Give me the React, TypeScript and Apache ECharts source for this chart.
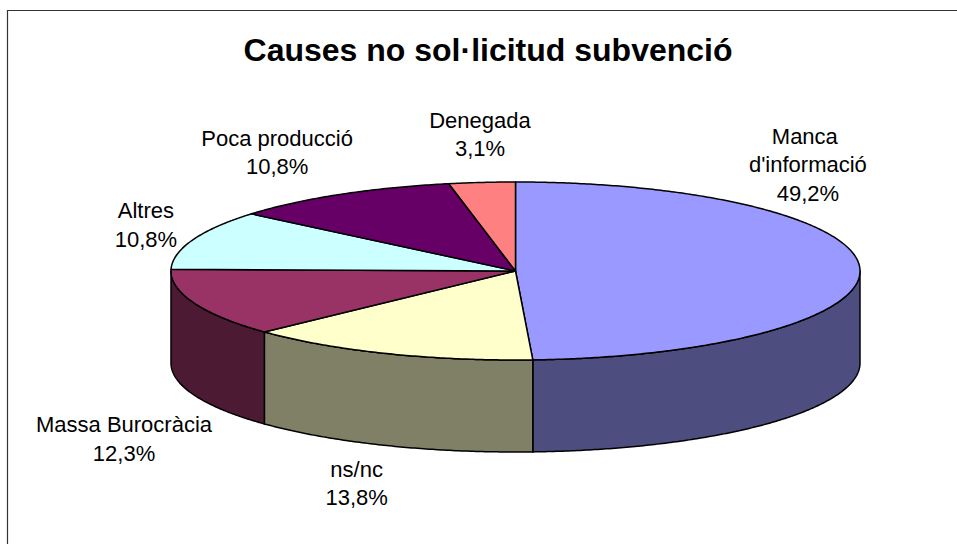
import { useEffect, useRef } from 'react';
import * as echarts from 'echarts';

// ---- data ----
const categories = ["Manca d'informació", 'ns/nc', 'Massa Burocràcia', 'Altres', 'Poca producció', 'Denegada'];
const percentages = [49.2, 13.8, 12.3, 10.8, 10.8, 3.1];
const titleText = 'Causes no sol·licitud subvenció';

// ---- styles / layout ----
const topColors = ['#9999FF', '#FFFFCC', '#993366', '#CCFFFF', '#660066', '#FF8080'];
const labelOffsets: number[][] = [[-52, -104], [-30, 130], [-70, 136], [-47, -15], [-63, -42], [-2, -48]];
const labelWidths = [130, 0, 0, 0, 0, 0];
const FONT = '"Liberation Sans", Arial, sans-serif';
const CX = 515.5;
const CY = 271;
const RX = 344.5;
const RY = 89;
const DEPTH = 92;

function darken(hex: string): string {
  const n = parseInt(hex.slice(1), 16);
  const r = Math.round(((n >> 16) & 255) * 0.5);
  const g = Math.round(((n >> 8) & 255) * 0.5);
  const b = Math.round((n & 255) * 0.5);
  return 'rgb(' + r + ',' + g + ',' + b + ')';
}

function pt(t: number, dy = 0): number[] {
  return [CX + RX * Math.sin(t), CY - RY * Math.cos(t) + dy];
}

function arc(t0: number, t1: number, dy = 0): number[][] {
  const n = Math.max(2, Math.ceil(Math.abs(t1 - t0) / (Math.PI / 360)));
  const out: number[][] = [];
  for (let k = 0; k <= n; k++) out.push(pt(t0 + ((t1 - t0) * k) / n, dy));
  return out;
}

export default function App() {
  const ref = useRef<HTMLDivElement>(null);
  useEffect(() => {
    if (!ref.current) return;
    const chart = echarts.init(ref.current, undefined, { renderer: 'svg' });
    const total = percentages.reduce((a, b) => a + b, 0);
    const cum: number[] = [];
    let acc = 0;
    for (const v of percentages) {
      cum.push(acc);
      acc += v;
    }
    const data = percentages.map((v, i) => ({ name: categories[i], value: [v, cum[i]] }));

    const renderItem = (params: any, api: any) => {
      const i = params.dataIndex;
      const v = api.value(0) as number;
      const s = api.value(1) as number;
      const t0 = (s / total) * Math.PI * 2;
      const t1 = ((s + v) / total) * Math.PI * 2;
      const children: any[] = [];
      const a = Math.max(t0, Math.PI / 2);
      const b = Math.min(t1, (Math.PI * 3) / 2);
      if (b > a) {
        const side = arc(a, b).concat(arc(b, a, DEPTH));
        children.push({
          type: 'polygon',
          shape: { points: side },
          style: { fill: darken(topColors[i]), stroke: '#000', lineWidth: 1.5, lineJoin: 'round' },
        });
      }
      const top = [[CX, CY]].concat(arc(t0, t1));
      children.push({
        type: 'polygon',
        shape: { points: top },
        style: { fill: topColors[i], stroke: '#000', lineWidth: 1.5, lineJoin: 'round' },
      });
      const tm = (t0 + t1) / 2;
      const anchor = pt(tm);
      const label = categories[i] + '\n' + v.toFixed(1).replace('.', ',') + '%';
      const style: any = {
        text: label,
        x: anchor[0] + labelOffsets[i][0],
        y: anchor[1] + labelOffsets[i][1],
        fill: '#000',
        font: '22px ' + FONT,
        align: 'center',
        verticalAlign: 'middle',
        lineHeight: 28.5,
      };
      if (labelWidths[i]) {
        style.width = labelWidths[i];
        style.overflow = 'break';
      }
      children.push({ type: 'text', style });
      return { type: 'group', children };
    };

    chart.setOption({
      animation: false,
      backgroundColor: '#fff',
      graphic: [
        {
          type: 'rect',
          shape: { x: 7.5, y: 10.5, width: 1000, height: 600 },
          style: { fill: 'none', stroke: '#333', lineWidth: 1.2 },
          silent: true,
        },
        {
          type: 'text',
          x: 488,
          y: 50,
          style: {
            text: titleText,
            font: 'bold 32px ' + FONT,
            fill: '#000',
            align: 'center',
            verticalAlign: 'middle',
            textAlign: 'center',
            textVerticalAlign: 'middle',
          },
          silent: true,
        },
      ],
      series: [
        {
          type: 'custom',
          coordinateSystem: 'none',
          silent: true,
          data,
          renderItem,
        },
      ],
    });
    return () => chart.dispose();
  }, []);
  return (
    <div
      ref={ref}
      style={{ position: 'fixed', left: 0, top: 0, width: 957, height: 544, background: '#fff' }}
    />
  );
}
